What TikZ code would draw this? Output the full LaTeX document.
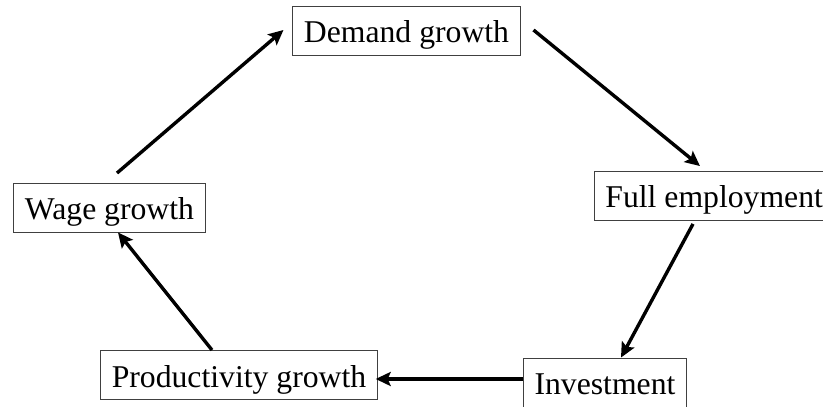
\documentclass[tikz,border=0pt]{standalone}
\usepackage{fontspec}
\setmainfont{Liberation Serif}
\usetikzlibrary{arrows.meta}
\begin{document}
\begin{tikzpicture}[x=1pt, y=1pt, >={Stealth[length=15pt,width=14pt,inset=3pt]}, line width=3.4pt,
  box node/.style={draw=black!75, line width=0.9pt, inner xsep=11pt, inner ysep=4pt, text height=33pt, text depth=8pt}]
\useasboundingbox (0,0) rectangle (823,407);
\begin{scope}[every node/.style={font=\fontsize{31.7}{38}\selectfont}]
\node [box node](demand) at (406.5,376.5) {Demand growth};
\node [box node, anchor=west](full) at (594,211.5) {Full employment};
\node [box node](inv) at (605,24.5) {Investment};
\node [box node](prod) at (239,32) {Productivity growth};
\node [box node](wage) at (109.5,199.5) {Wage growth};
\end{scope}
\draw [->] ([shift={(7.5,9.5)}]wage.north) -- ([shift={(-9,0.5)}]demand.west);
\draw [->] ([shift={(13,0.5)}]demand.east) -- ([shift={(106,4.5)}]full.north west);
\draw [->] ([shift={(99,-3.5)}]full.south west) -- ([shift={(16,0)}]inv.north);
\draw [->] ([yshift=3.5pt]inv.west) -- ([shift={(-2,-4)}]prod.east);
\draw [->] ([xshift=-27pt]prod.north) -- ([xshift=8.5pt]wage.south);
\end{tikzpicture}
\end{document}
